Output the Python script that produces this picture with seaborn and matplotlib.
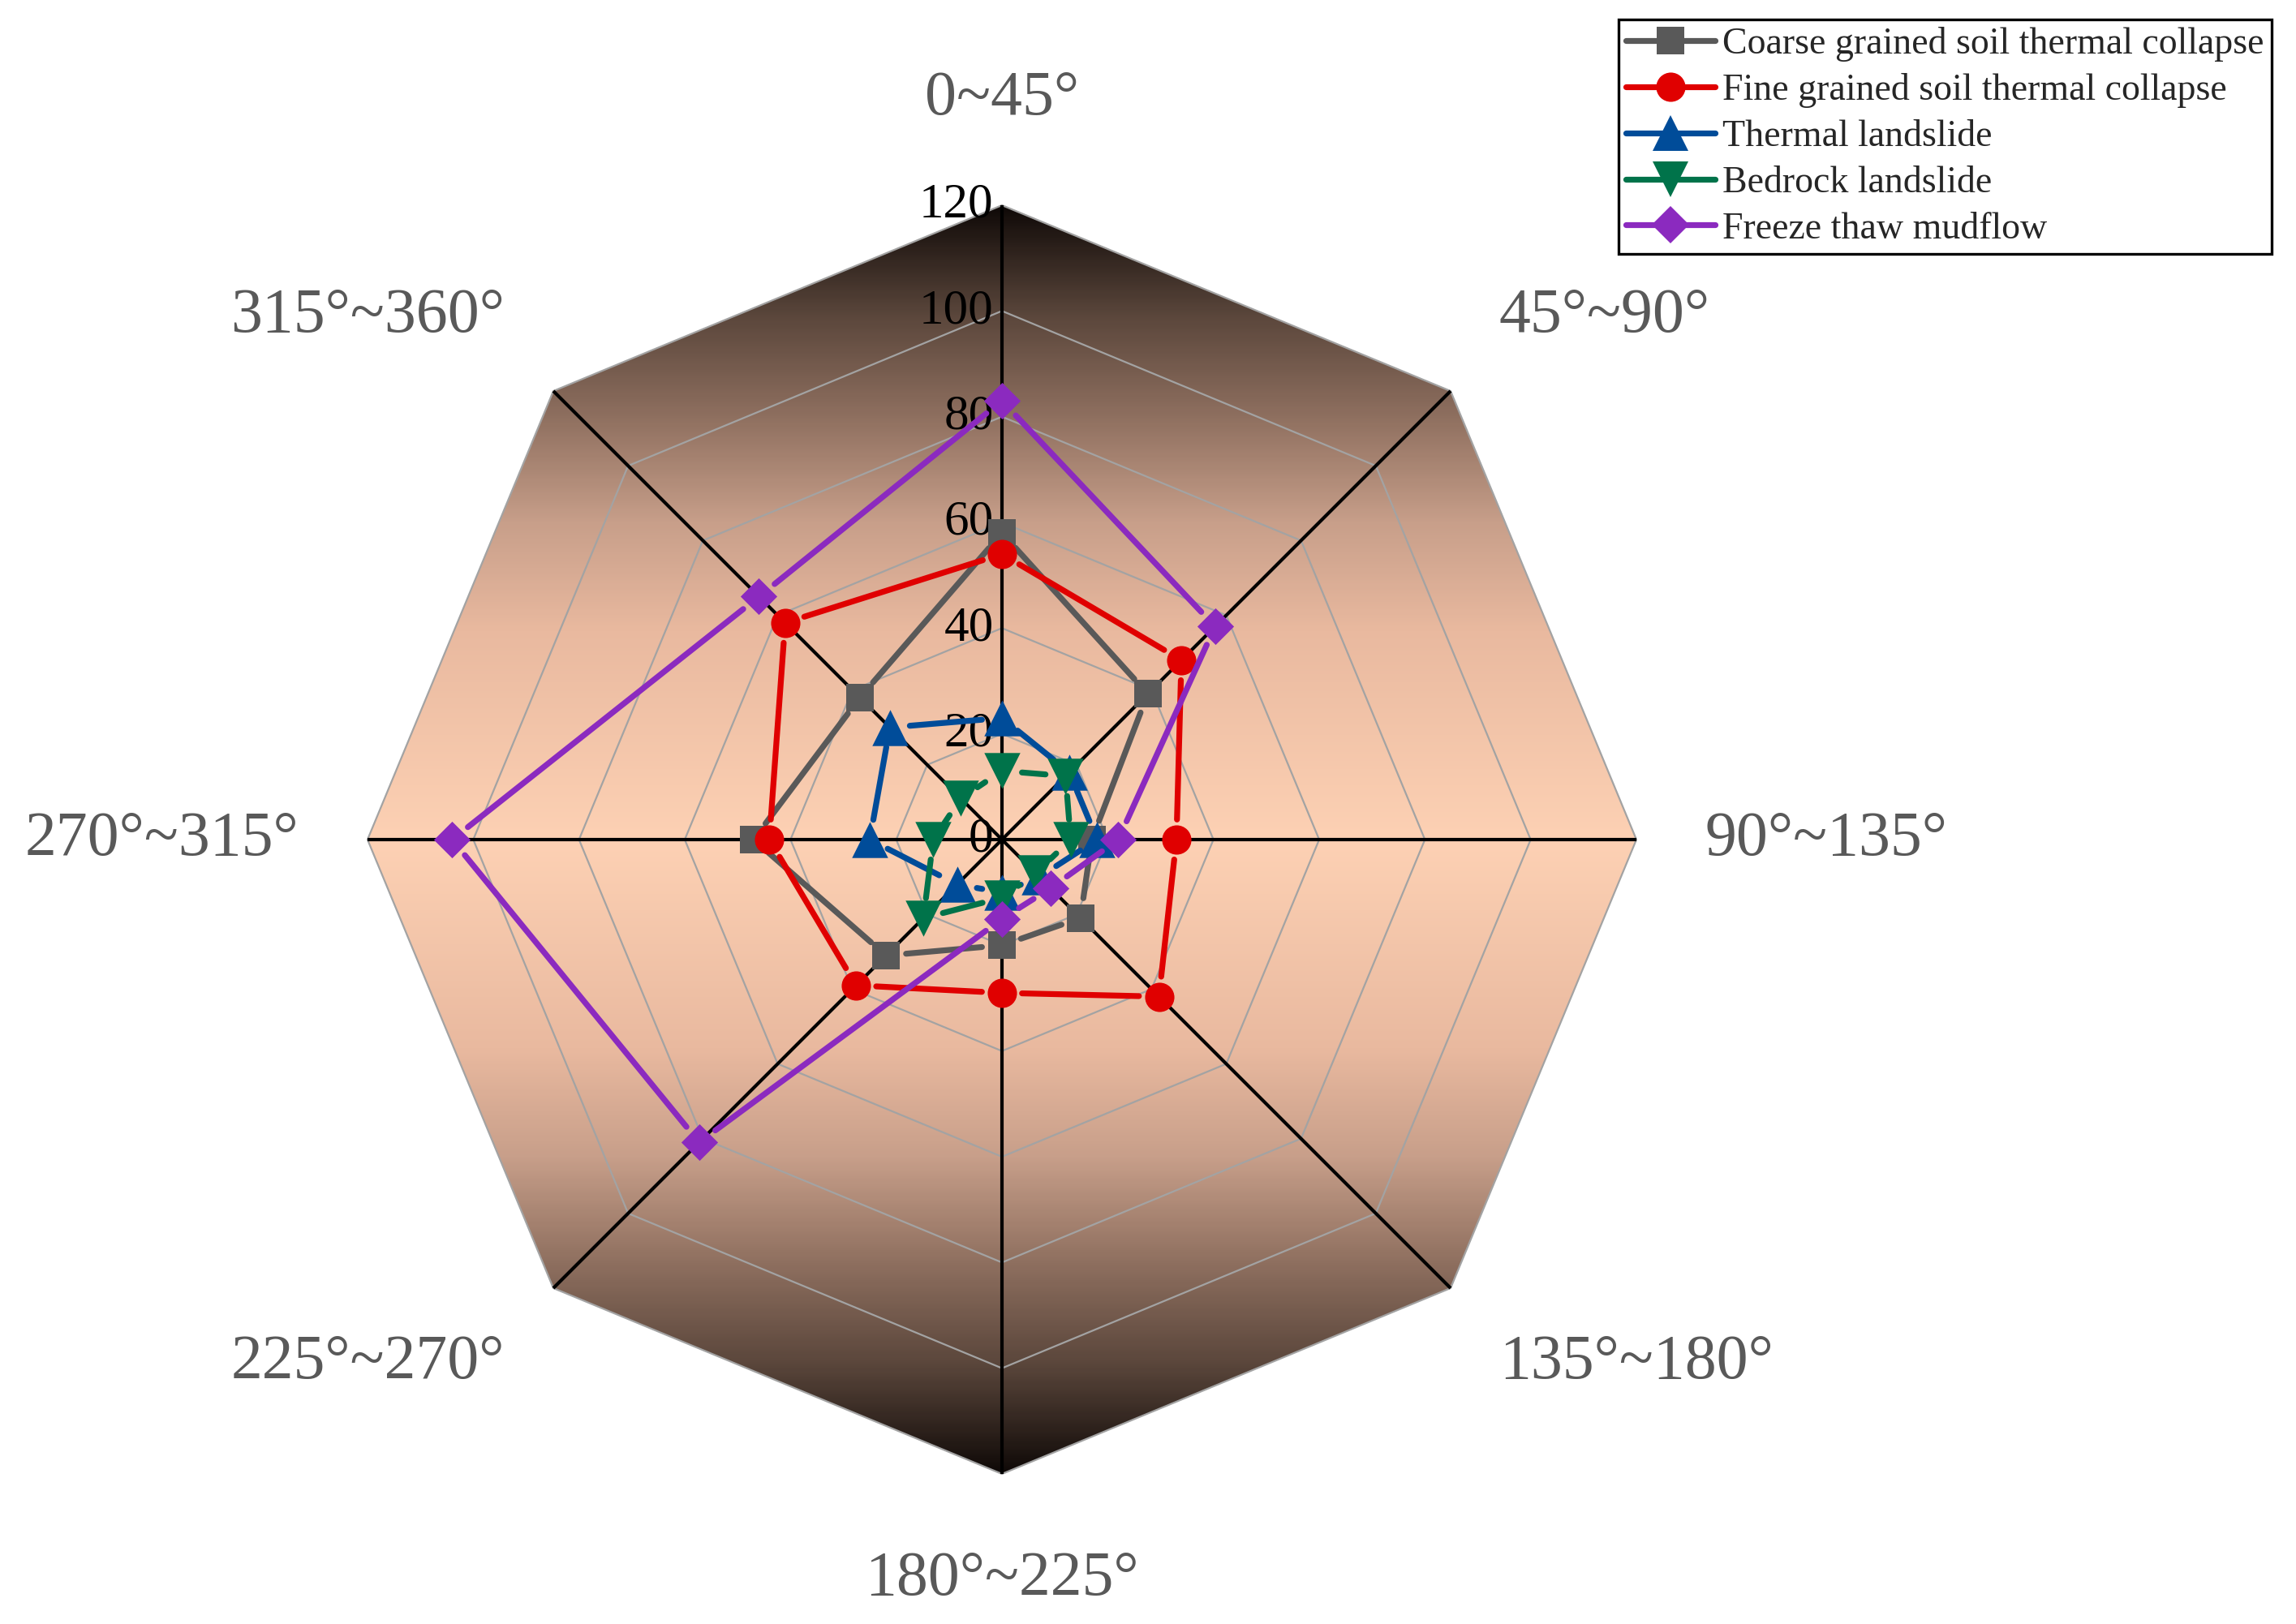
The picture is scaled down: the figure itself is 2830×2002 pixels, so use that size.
# plot.py
# Radar chart of slope failure types by aspect (octagon with vertical gradient fill)

import numpy as np  # angles and simple geometry
import pandas as pd  # tables for seaborn
import matplotlib
matplotlib.use("Agg")
import matplotlib.pyplot as plt
import seaborn as sns
from matplotlib.colors import LinearSegmentedColormap
from matplotlib.patches import Polygon
from matplotlib.lines import Line2D

# 1. Data
directions = ["0~45°", "45°~90°", "90°~135°", "135°~180°",
              "180°~225°", "225°~270°", "270°~315°", "315°~360°"]
coarse_collapse = [58, 39, 17, 21, 20, 31, 47, 38]
fine_collapse = [54, 48, 33, 42, 29, 39, 44, 58]
thermal_landslide = [23, 18, 18, 10, 10, 12, 25, 30]
bedrock_landslide = [13, 17, 13, 9, 11, 21, 13, 11]
freeze_thaw_mudflow = [83, 57, 22, 13, 15, 81, 104, 65]
series_names = ["Coarse grained soil thermal collapse",
                "Fine grained soil thermal collapse",
                "Thermal landslide",
                "Bedrock landslide",
                "Freeze thaw mudflow"]
radial_ticks = [0, 20, 40, 60, 80, 100, 120]

# 2. Styles
colors = ["#595959", "#E00000", "#004C99", "#00734A", "#8B2ABF"]
markers = ["s", "o", "^", "v", "D"]
marker_sizes = [24, 26, 32, 32, 23]
R_MAX = radial_ticks[-1]
PX_PER_UNIT = 782 / R_MAX  # pixels per data unit in the output image
GAP = 3.8  # Origin-style gap between line ends and markers, in data units
LW = 5.2

sns.set_theme(style="white")
plt.rcParams["font.family"] = ["Liberation Serif", "DejaVu Serif"]

fig = plt.figure(figsize=(28.3, 20.02), dpi=100)
ax = fig.add_axes([0, 0, 1, 1])

theta = np.deg2rad(np.arange(len(directions)) * 45.0)
sin_t, cos_t = np.sin(theta), np.cos(theta)

# 3. Gradient background clipped to the outer octagon
outer = np.column_stack([R_MAX * sin_t, R_MAX * cos_t])
grad_cmap = LinearSegmentedColormap.from_list(
    "peach_dark",
    [(0.0, "#FDD1B4"), (0.33, "#E9B99F"), (0.5, "#C89F8A"),
     (0.67, "#8E6F5F"), (0.83, "#5A463B"), (1.0, "#100A08")])
yy = np.linspace(R_MAX, -R_MAX, 600)
grad = np.abs(yy)[:, None] / R_MAX
img = ax.imshow(grad, cmap=grad_cmap, vmin=0, vmax=1, aspect="auto",
                extent=(-R_MAX, R_MAX, -R_MAX, R_MAX), zorder=0,
                interpolation="bilinear")
clip = Polygon(outer, closed=True, facecolor="none", edgecolor="none")
ax.add_patch(clip)
img.set_clip_path(clip)

# grid octagons
for level in radial_ticks[1:]:
    ring = np.vstack([np.column_stack([level * sin_t, level * cos_t]),
                      [[0, level]]])
    ax.plot(ring[:, 0], ring[:, 1], color="#A3A3A3", lw=1.6, zorder=1)

# spokes
for s, c in zip(sin_t, cos_t):
    ax.plot([0, R_MAX * s], [0, R_MAX * c], color="black", lw=3.0,
            zorder=1.5, solid_capstyle="butt")

# radial tick labels along the top spoke
for level in radial_ticks:
    ax.text(-1.6, level, str(level), ha="right", va="center",
            fontsize=44, color="black", zorder=1.8)

# direction labels
for name, s, c in zip(directions, sin_t, cos_t):
    x, y = 133 * s, 140 * c
    ha = "center" if abs(s) < 1e-6 else ("left" if s > 0 else "right")
    ax.text(x, y, name, ha=ha, va="center", fontsize=56, color="#595959")

# 4. Series: line segments with gaps at the markers, then markers
all_values = [coarse_collapse, fine_collapse, thermal_landslide,
              bedrock_landslide, freeze_thaw_mudflow]
for k, (name, vals) in enumerate(zip(series_names, all_values)):
    r = np.asarray(vals, dtype=float)
    px, py = r * sin_t, r * cos_t
    rows = []
    n = len(r)
    for i in range(n):
        j = (i + 1) % n
        p0 = np.array([px[i], py[i]])
        p1 = np.array([px[j], py[j]])
        d = np.linalg.norm(p1 - p0)
        if d <= 2 * GAP:
            continue
        u = (p1 - p0) / d
        a, b = p0 + u * GAP, p1 - u * GAP
        rows.append({"x": a[0], "y": a[1], "seg": i})
        rows.append({"x": b[0], "y": b[1], "seg": i})
    seg_df = pd.DataFrame(rows)
    sns.lineplot(data=seg_df, x="x", y="y", units="seg", estimator=None,
                 sort=False, color=colors[k], linewidth=LW,
                 solid_capstyle="round", zorder=3 + k, ax=ax, legend=False)
    pts = pd.DataFrame({"x": px, "y": py})
    sns.scatterplot(data=pts, x="x", y="y", marker=markers[k],
                    s=marker_sizes[k] ** 2, color=colors[k], linewidth=0,
                    zorder=3.5 + k, ax=ax, legend=False)

# 5. Legend
handles = [Line2D([], [], color=c, lw=LW, marker=m, markersize=ms,
                  markeredgewidth=0, solid_capstyle="round")
           for c, m, ms in zip(colors, markers, marker_sizes)]
leg = fig.legend(handles, series_names, loc="upper right",
                 bbox_to_anchor=(2800 / 2830, 1 - 24 / 2002),
                 fontsize=33, frameon=True, fancybox=False,
                 edgecolor="black", framealpha=1, handlelength=2.4,
                 handletextpad=0.2, labelspacing=0.31, borderpad=0.2,
                 borderaxespad=0)
leg.get_frame().set_linewidth(2.4)

# 6. Axes limits so the chart center sits where it does in the reference
cx, cy = 1235, 1035
ax.set_xlim(-cx / PX_PER_UNIT, (2830 - cx) / PX_PER_UNIT)
ax.set_ylim(-(2002 - cy) / PX_PER_UNIT, cy / PX_PER_UNIT)
ax.set_aspect("auto")
ax.axis("off")

fig.savefig("out.png", dpi=100, facecolor="white")
